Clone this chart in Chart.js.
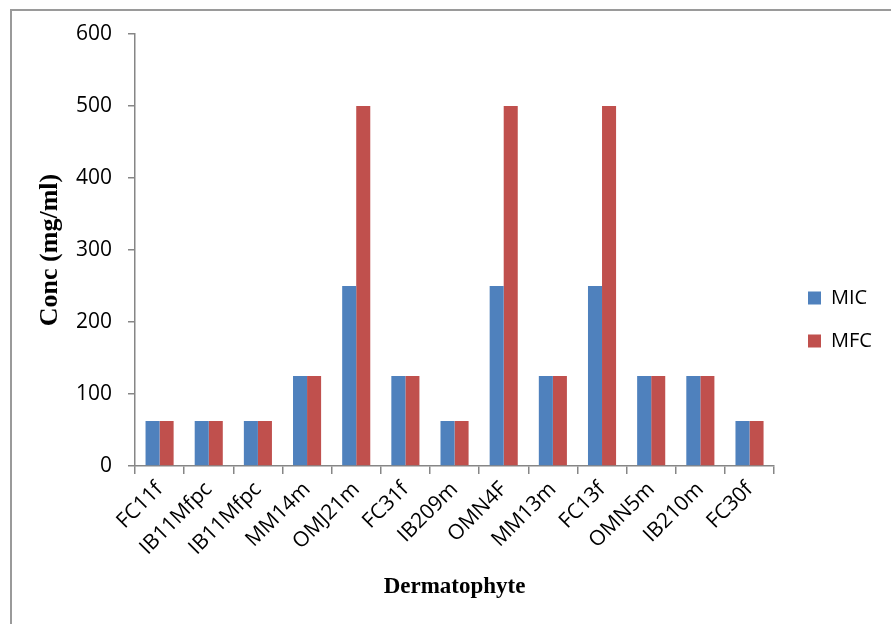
<!DOCTYPE html>
<html>
<head>
<meta charset="utf-8">
<script src="https://cdn.jsdelivr.net/npm/chart.js@4.4.1/dist/chart.umd.min.js"></script>
<style>
  html, body { margin: 0; padding: 0; background: #ffffff; }
  #wrap { position: relative; width: 891px; height: 624px; overflow: hidden; }
  #frame { position: absolute; left: 10px; top: 9px; width: 900px; height: 640px;
           border-left: 2px solid #9a9a9a; border-top: 2px solid #9a9a9a; box-sizing: border-box; }
  canvas { position: absolute; left: 0; top: 0; }
</style>
</head>
<body>
<div id="wrap">
  <div id="frame"></div>
  <canvas id="c" width="891" height="624"></canvas>
</div>
<script>
const categories = ["FC11f", "IB11Mfpc", "IB11Mfpc", "MM14m", "OMJ21m", "FC31f", "IB209m",
                    "OMN4F", "MM13m", "FC13f", "OMN5m", "IB210m", "FC30f"];
const micValues = [62.5, 62.5, 62.5, 125, 250, 125, 62.5, 250, 125, 250, 125, 125, 62.5];
const mfcValues = [62.5, 62.5, 62.5, 125, 500, 125, 62.5, 500, 125, 500, 125, 125, 62.5];
const seriesNames = ["MIC", "MFC"];
const yTicks = [0, 100, 200, 300, 400, 500, 600];

const axisGray = '#868686';
const tickFont = { family: "'Open Sans', sans-serif", size: 21 };
const legendFont = { family: "'Open Sans', sans-serif", size: 20 };
const xTitleFont = { family: "'Liberation Serif', 'Times New Roman', serif", size: 23, weight: 'bold' };
const yTitleFont = { family: "'Liberation Serif', 'Times New Roman', serif", size: 26, weight: 'bold' };

const legendPlacer = {
  id: 'legendPlacer',
  afterLayout(chart) {
    const lg = chart.legend;
    if (!lg) return;
    const pad = lg.options.labels.padding;
    const dx = 808 - (lg.left + pad);
    lg.left += dx; lg.right += dx;
    const dy = -9.5;
    lg.top += dy; lg.bottom += dy;
  }
};

new Chart(document.getElementById('c'), {
  type: 'bar',
  data: {
    labels: categories,
    datasets: [
      { label: seriesNames[0], data: micValues, backgroundColor: '#4F81BD', borderWidth: 0 },
      { label: seriesNames[1], data: mfcValues, backgroundColor: '#C0504D', borderWidth: 0 }
    ]
  },
  options: {
    responsive: false,
    animation: false,
    devicePixelRatio: 1,
    layout: { padding: { left: 10, top: 34, right: 20, bottom: 0 } },
    datasets: { bar: { categoryPercentage: 2 / 3.5, barPercentage: 1 } },
    plugins: {
      tooltip: { enabled: false },
      legend: {
        position: 'right',
        labels: { font: legendFont, color: '#000', boxWidth: 13, boxHeight: 13, padding: 23 }
      }
    },
    scales: {
      x: {
        grid: { display: true, drawOnChartArea: false, drawTicks: true, tickLength: 8, color: axisGray, lineWidth: 1.5, offset: true },
        border: { display: true, color: axisGray, width: 1.5 },
        ticks: { font: tickFont, color: '#000', minRotation: 45, maxRotation: 45, autoSkip: false, padding: 3 },
        title: { display: true, text: 'Dermatophyte', font: xTitleFont, color: '#000', padding: { top: 0, bottom: 23 } },
        afterFit(scale) { scale.height = 158; }
      },
      y: {
        min: yTicks[0],
        max: yTicks[yTicks.length - 1],
        afterBuildTicks(scale) { scale.ticks = yTicks.map(v => ({ value: v })); },
        grid: { display: true, drawOnChartArea: false, drawTicks: true, tickLength: 7, color: axisGray, lineWidth: 1.5 },
        border: { display: true, color: axisGray, width: 1.5 },
        ticks: { font: tickFont, color: '#000', padding: 16 },
        title: { display: true, text: 'Conc (mg/ml)', font: yTitleFont, color: '#000', padding: { top: 25, bottom: 0 } },
        afterFit(scale) { scale.width = 125; }
      }
    }
  },
  plugins: [legendPlacer]
});
</script>
</body>
</html>
